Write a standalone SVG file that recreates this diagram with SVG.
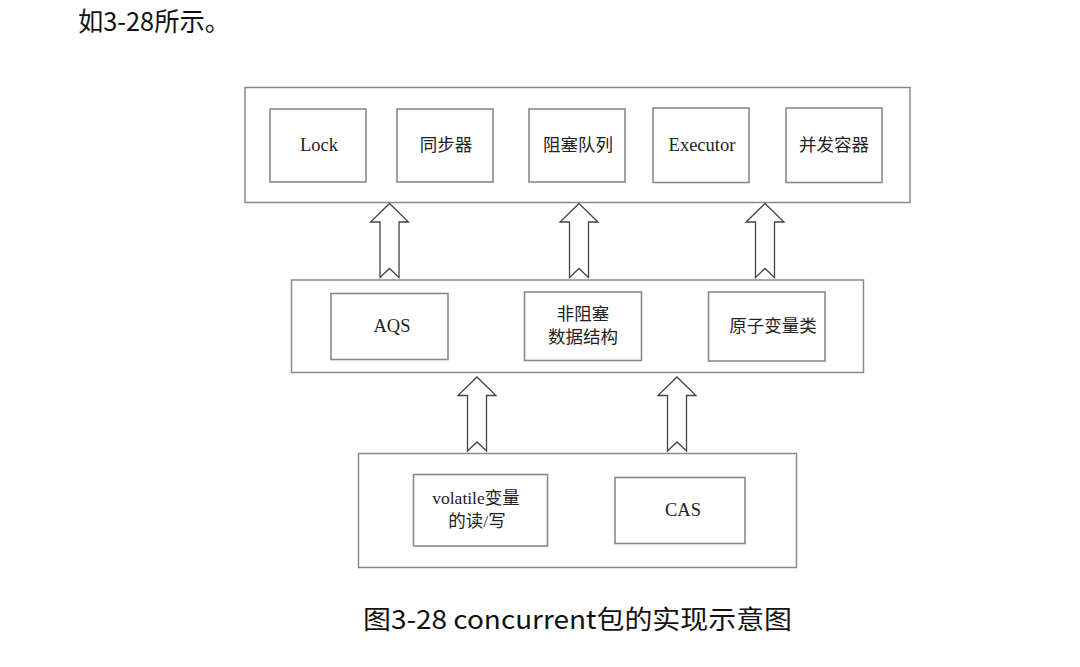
<svg xmlns="http://www.w3.org/2000/svg" width="1080" height="667" viewBox="0 0 1080 667">
<style>
.bg{fill:#ffffff}
.cont{fill:#ffffff;stroke:#8a8a8a;stroke-width:1.5}
.box{fill:#ffffff;stroke:#8a8a8a;stroke-width:1.6}
.lbl{font-family:"Liberation Serif","Noto Sans CJK SC",serif;font-size:17.5px;fill:#222;text-anchor:middle;dominant-baseline:central}
.lat{font-size:18.5px}
.arr{fill:#ffffff;stroke:#444;stroke-width:1.3;stroke-linejoin:miter}
.cap{font-family:"Noto Sans CJK SC","Open Sans",sans-serif;font-size:26px;fill:#111}
</style>
<defs>
<path id="uparrow" d="M0,0 L19,18.5 L9.5,18.5 L9.5,74 L0,65 L-9.5,74 L-9.5,18.5 L-19,18.5 Z"/>
</defs>
<rect class="bg" x="0" y="0" width="1080" height="667"/>
<text class="cap" x="78" y="31" textLength="152" lengthAdjust="spacingAndGlyphs">如3-28所示。</text>

<g id="layer-top">
<rect class="cont" x="245" y="87.5" width="665" height="115"/>
</g>
<g id="node-lock"><rect class="box" x="270" y="109" width="96" height="73"/><text class="lbl lat" x="319" y="145">Lock</text></g>
<g id="node-sync"><rect class="box" x="397" y="109" width="96" height="73"/><text class="lbl" x="446" y="145">同步器</text></g>
<g id="node-bq"><rect class="box" x="529" y="109" width="96" height="73"/><text class="lbl" x="578" y="145">阻塞队列</text></g>
<g id="node-exec"><rect class="box" x="653" y="108" width="96" height="74.5"/><text class="lbl lat" x="702" y="145">Executor</text></g>
<g id="node-cc"><rect class="box" x="786" y="108" width="96" height="74.5"/><text class="lbl" x="834" y="145">并发容器</text></g>

<g id="layer-mid">
<rect class="cont" x="291.5" y="280" width="572" height="92.5"/>
</g>
<g id="node-aqs"><rect class="box" x="331" y="293.5" width="117" height="66"/><text class="lbl lat" x="392" y="326">AQS</text></g>
<g id="node-nb"><rect class="box" x="524.5" y="292" width="117" height="68.5"/><text class="lbl" x="583" y="314">非阻塞</text><text class="lbl" x="583" y="337">数据结构</text></g>
<g id="node-atomic"><rect class="box" x="708.5" y="292" width="116.5" height="69"/><text class="lbl" x="773" y="326">原子变量类</text></g>

<g id="layer-bottom">
<rect class="cont" x="358.5" y="453.5" width="438" height="114"/>
</g>
<g id="node-volatile"><rect class="box" x="413.5" y="474.5" width="134" height="71.5"/><text class="lbl" x="476" y="498">volatile变量</text><text class="lbl" x="477" y="521">的读/写</text></g>
<g id="node-cas"><rect class="box" x="615" y="477.5" width="130" height="66"/><text class="lbl lat" x="683" y="510">CAS</text></g>

<g id="connectors">
<use href="#uparrow" class="arr" transform="translate(389.5,203.5)"/>
<use href="#uparrow" class="arr" transform="translate(579,203.5)"/>
<use href="#uparrow" class="arr" transform="translate(765,203.5)"/>
<use href="#uparrow" class="arr" transform="translate(477,377)"/>
<use href="#uparrow" class="arr" transform="translate(677,377)"/>
</g>

<text class="cap" x="363" y="629" textLength="429" lengthAdjust="spacingAndGlyphs">图3-28 concurrent包的实现示意图</text>
</svg>
